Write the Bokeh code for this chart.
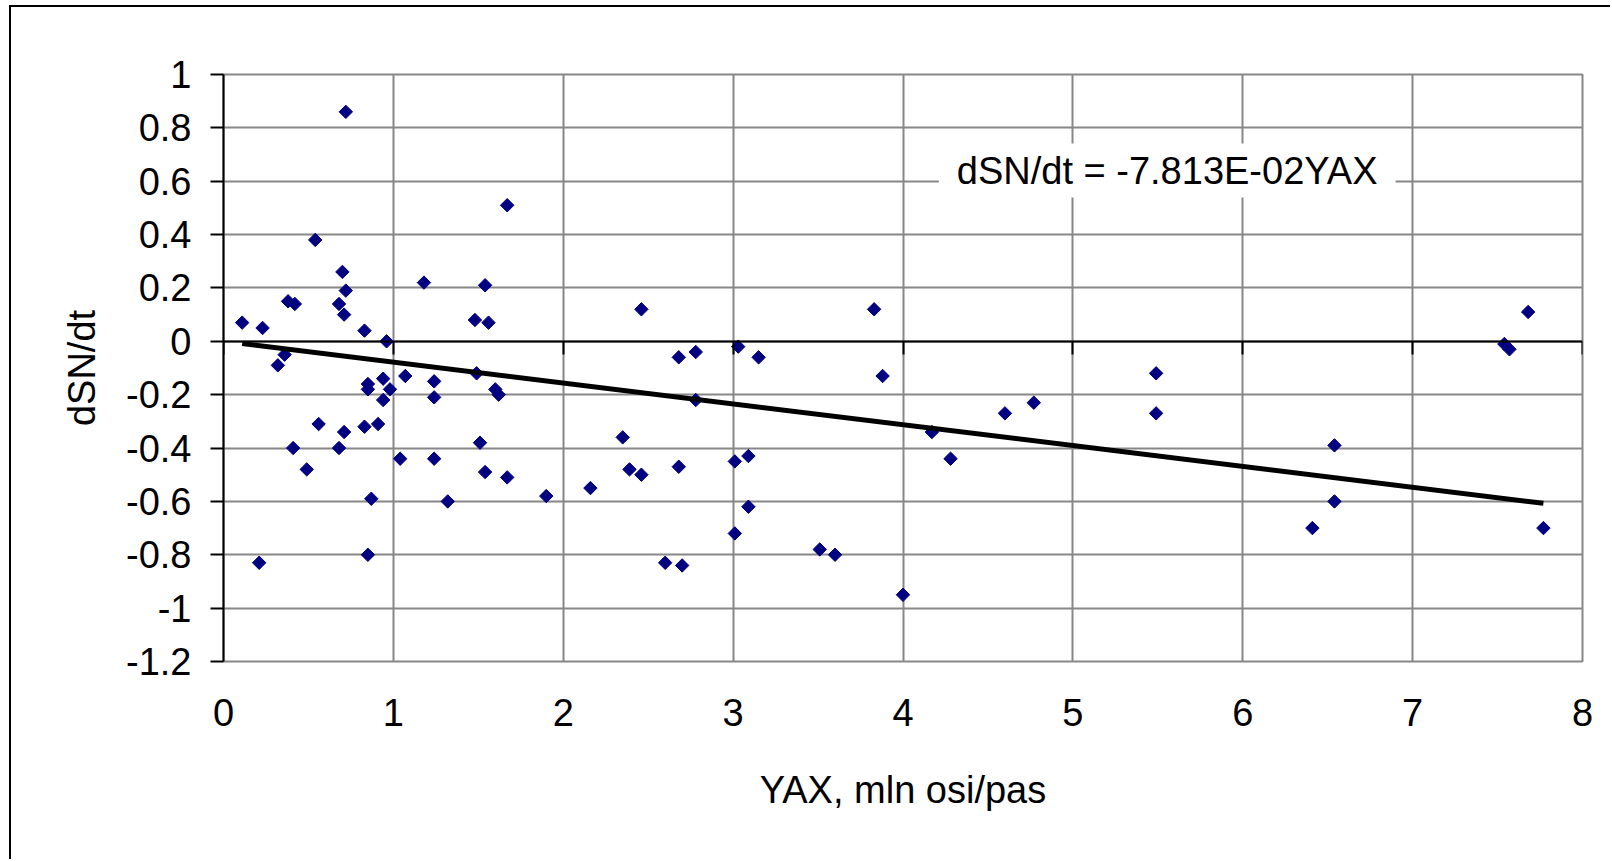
import math
from bokeh.plotting import figure
from bokeh.models import FixedTicker, LinearAxis, Label, Range1d
from bokeh.embed import file_html
from bokeh.resources import INLINE

# ---- data ----
yax = [0.11, 0.23, 0.38, 0.42, 0.54, 0.72, 0.70, 0.72, 0.68, 0.71,
       0.83, 0.96, 1.18, 1.67, 1.54, 1.48, 1.56, 0.36, 0.32, 0.85,
       0.85, 0.94, 0.98, 0.94, 1.07, 1.24, 1.24, 1.49, 1.60, 1.62,
       0.56, 0.71, 0.83, 0.91, 0.41, 0.68, 0.49, 1.51, 1.04, 1.24,
       1.54, 1.67, 0.87, 1.32, 1.90, 0.21, 0.85, 2.46, 3.83, 2.68,
       2.78, 3.03, 3.15, 3.88, 2.78, 2.35, 4.17, 4.60, 4.77, 2.16,
       2.39, 2.46, 2.68, 3.01, 3.09, 4.28, 3.09, 3.01, 3.51, 3.60,
       2.60, 2.70, 4.00, 5.49, 5.49, 7.68, 7.54, 7.57, 6.54, 6.54,
       6.41, 7.77]
dsn_dt = [0.07, 0.05, 0.15, 0.14, 0.38, 0.86, 0.26, 0.19, 0.14, 0.10,
          0.04, 0.00, 0.22, 0.51, 0.21, 0.08, 0.07, -0.05, -0.09, -0.16,
          -0.18, -0.14, -0.18, -0.22, -0.13, -0.15, -0.21, -0.12, -0.18, -0.20,
          -0.31, -0.34, -0.32, -0.31, -0.40, -0.40, -0.48, -0.38, -0.44, -0.44,
          -0.49, -0.51, -0.59, -0.60, -0.58, -0.83, -0.80, 0.12, 0.12, -0.06,
          -0.04, -0.02, -0.06, -0.13, -0.22, -0.36, -0.34, -0.27, -0.23, -0.55,
          -0.48, -0.50, -0.47, -0.45, -0.43, -0.44, -0.62, -0.72, -0.78, -0.80,
          -0.83, -0.84, -0.95, -0.12, -0.27, 0.11, -0.01, -0.03, -0.39, -0.60,
          -0.70, -0.70]
trend_slope = -7.813e-02
equation_text = "dSN/dt = -7.813E-02YAX"

x_ticks = [0, 1, 2, 3, 4, 5, 6, 7, 8]
x_tick_labels = ["0", "1", "2", "3", "4", "5", "6", "7", "8"]
y_ticks = [-1.2, -1.0, -0.8, -0.6, -0.4, -0.2, 0.0, 0.2, 0.4, 0.6, 0.8, 1.0]
y_tick_labels = ["-1.2", "-1", "-0.8", "-0.6", "-0.4", "-0.2", "0",
                 "0.2", "0.4", "0.6", "0.8", "1"]
x_title = "YAX, mln osi/pas"
y_title = "dSN/dt"

FONT = "Liberation Sans"
FS = "38px"
GRID = "#878787"

p = figure(width=1601, height=854,
           x_range=Range1d(0, 8), y_range=Range1d(-1.2, 1.0),
           output_backend="svg", toolbar_location=None,
           min_border_left=212, min_border_right=30,
           min_border_top=67, min_border_bottom=200)
p.margin = (7, 0, 0, 11)
p.styles = {"box-shadow": "-2px -2px 0 0 #000000"}
p.background_fill_color = "white"
p.border_fill_color = "white"
p.outline_line_color = GRID
p.outline_line_width = 2

# grids
p.xgrid.ticker = FixedTicker(ticks=x_ticks)
p.ygrid.ticker = FixedTicker(ticks=y_ticks)
for g in (p.xgrid, p.ygrid):
    g.grid_line_color = GRID
    g.grid_line_width = 2

# y axis
ya = p.yaxis[0]
ya.ticker = FixedTicker(ticks=y_ticks)
ya.major_label_overrides = dict(zip(y_ticks, y_tick_labels))
ya.axis_line_color = "black"
ya.axis_line_width = 2
ya.major_tick_line_color = "black"
ya.major_tick_line_width = 2
ya.major_tick_out = 13
ya.major_tick_in = 0
ya.minor_tick_line_color = None
ya.major_label_text_font = FONT
ya.major_label_text_font_size = FS
ya.major_label_text_color = "black"
ya.major_label_standoff = 19
ya.axis_label = y_title
ya.axis_label_text_font = FONT
ya.axis_label_text_font_size = FS
ya.axis_label_text_font_style = "normal"
ya.axis_label_text_color = "black"
ya.axis_label_standoff = 20

# x axis (labels at the bottom)
xa = p.xaxis[0]
xa.ticker = FixedTicker(ticks=x_ticks)
xa.major_label_overrides = dict(zip(x_ticks, x_tick_labels))
xa.axis_line_color = None
xa.major_tick_line_color = None
xa.major_tick_out = 0
xa.major_tick_in = 0
xa.minor_tick_line_color = None
xa.major_label_text_font = FONT
xa.major_label_text_font_size = FS
xa.major_label_text_color = "black"
xa.major_label_standoff = 37
xa.axis_label = x_title
xa.axis_label_text_font = FONT
xa.axis_label_text_font_size = FS
xa.axis_label_text_font_style = "normal"
xa.axis_label_text_color = "black"
xa.axis_label_standoff = 40

# x axis line crossing at y = 0 with ticks downward
x0 = LinearAxis(fixed_location=0, ticker=FixedTicker(ticks=x_ticks),
                axis_line_color="black", axis_line_width=2,
                major_tick_line_color="black", major_tick_line_width=2,
                major_tick_out=13, major_tick_in=0,
                minor_tick_line_color=None,
                major_label_overrides={t: "" for t in x_ticks},
                major_label_text_font_size="0px")
p.add_layout(x0, "below")

# data points
p.scatter(yax, dsn_dt, marker="square", angle=math.pi / 4, size=9.5,
          fill_color="#000080", line_color="#000080", line_width=1)

# trend line through origin, drawn over the data's x span
xl = [min(yax), max(yax)]
yl = [trend_slope * v for v in xl]
p.line(xl, yl, line_color="black", line_width=5)

# equation label
lab = Label(x=5.555, y=0.64, text=equation_text,
            text_align="center", text_baseline="middle",
            text_font=FONT, text_font_size=FS, text_color="black",
            background_fill_color="white", padding=(18, 6))
p.add_layout(lab)

open("out.html", "w").write(file_html(p, INLINE))
